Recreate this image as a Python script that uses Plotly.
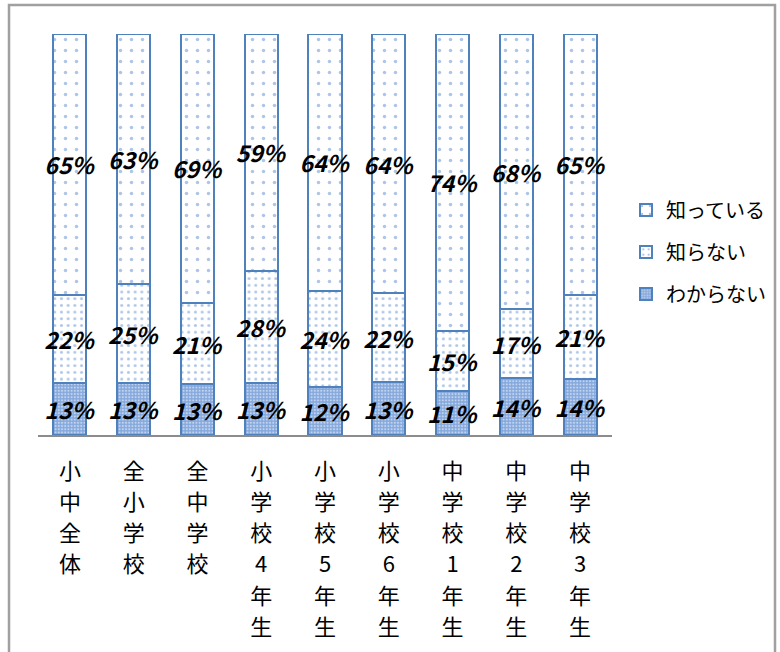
import plotly.graph_objects as go

# Survey categories (tick labels are stacked vertically, one character per line)
categories = ["小中全体", "全小学校", "全中学校", "小学校4年生", "小学校5年生",
              "小学校6年生", "中学校1年生", "中学校2年生", "中学校3年生"]

# Share of answers (%) per category
wakaranai = [13, 13, 13, 13, 12, 13, 11, 14, 14]   # わからない
shiranai = [22, 25, 21, 28, 24, 22, 15, 17, 21]    # 知らない
shitteiru = [65, 63, 69, 59, 64, 64, 74, 68, 65]   # 知っている

# (name, values, fill pattern, legend rank) - stacked bottom to top
series = [
    ("わからない", wakaranai,
     dict(shape=".", bgcolor="#84a8dc", fgcolor="#ffffff", size=3.2, solidity=0.33), 3),
    ("知らない", shiranai,
     dict(shape=".", bgcolor="#ffffff", fgcolor="#5b8bd0", size=6.7, solidity=0.16), 2),
    ("知っている", shitteiru,
     dict(shape=".", bgcolor="#ffffff", fgcolor="#5b8bd0", size=11, solidity=0.08), 1),
]

# one character per line; line pitch comes from the tick font size,
# the glyphs themselves are drawn a little smaller
tick_text = ["<br>".join(f'<span style="font-size:22px">{ch}</span>' for ch in c)
             for c in categories]

JP = "Noto Sans CJK JP"
BLUE = "#4f81bd"

fig = go.Figure()
for i, (name, vals, pat, rank) in enumerate(series):
    fig.add_trace(go.Bar(
        x=categories,
        y=vals,
        name=name,
        legendgroup=f"g{i}",
        legendrank=rank,
        text=[f"{v}%" for v in vals],
        texttemplate="%{text}",
        textposition="inside",
        insidetextanchor="middle",
        constraintext="none",
        textangle=0,
        insidetextfont=dict(family=JP, size=23, color="#000000",
                            weight="bold", style="italic"),
        marker=dict(color=pat["bgcolor"], pattern=pat,
                    line=dict(color=BLUE, width=2)),
        hoverinfo="skip",
    ))

# Plot area geometry in pixels (used to place the legend and outer frame)
W, H = 780, 652
L, R, T, B = 38, 168, 34, 217
pw, ph = W - L - R, H - T - B


def px_x(p):
    return (p - L) / pw


def px_y(p):
    return (H - B - p) / ph


fig.update_layout(
    width=W, height=H,
    margin=dict(l=L, r=R, t=T, b=B, autoexpand=False),
    paper_bgcolor="white",
    plot_bgcolor="white",
    barmode="stack",
    barnorm="percent",
    bargap=0.48,
    showlegend=True,
    legend=dict(
        x=px_x(626), y=px_y(252), xanchor="left", yanchor="middle",
        font=dict(family=JP, size=20, color="#000000"),
        tracegroupgap=13,
        traceorder="grouped",
        bgcolor="rgba(0,0,0,0)",
    ),
    xaxis=dict(
        tickmode="array",
        tickvals=categories,
        ticktext=tick_text,
        tickfont=dict(family=JP, size=24, color="#000000"),
        ticks="",
        ticklabelstandoff=13,
        showline=True,
        linecolor="#8c8c8c",
        linewidth=2,
        showgrid=False,
        fixedrange=True,
    ),
    yaxis=dict(
        range=[0, 100],
        visible=False,
        showgrid=False,
        zeroline=False,
        fixedrange=True,
    ),
    shapes=[dict(
        type="rect", xref="paper", yref="paper",
        x0=px_x(9), x1=px_x(775), y0=px_y(720), y1=px_y(5),
        line=dict(color="#a0a0a0", width=2.5),
        fillcolor="rgba(0,0,0,0)", layer="below",
    )],
)

fig.write_html("out.html")
